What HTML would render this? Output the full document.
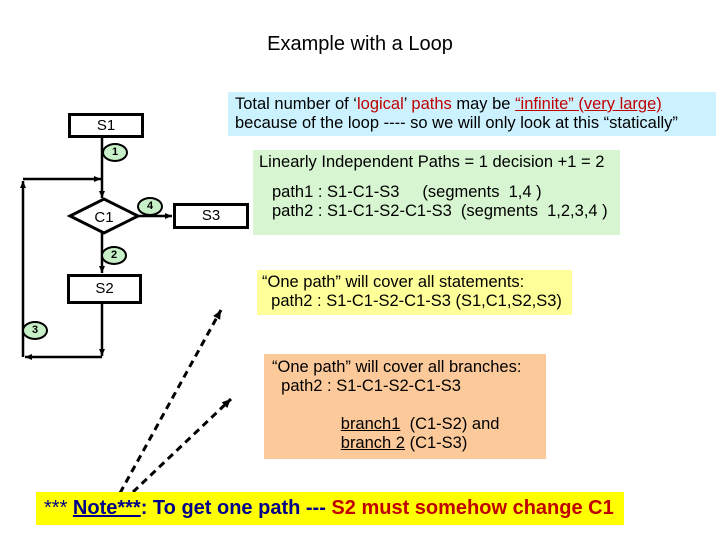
<!DOCTYPE html>
<html><head><style>
body{margin:0;width:720px;height:540px;background:#fff;position:relative;overflow:hidden;font-family:"Liberation Sans",Arial,sans-serif;}
.a{position:absolute;}
.box{position:absolute;border:3px solid #000;background:#fff;box-sizing:border-box;text-align:center;font-size:15px;}
.b{position:absolute;width:22px;height:15px;border:2.5px solid #000;border-radius:50%;background:#c8f0c8;font-size:11px;font-weight:bold;text-align:center;line-height:15px;box-sizing:content-box;}
</style></head><body>
<div class="a" style="left:0;top:33px;width:720px;text-align:center;font-size:20px;">Example with a Loop</div>

<svg class="a" style="left:0;top:0" width="720" height="540">
<defs>
<marker id="ar" markerWidth="8" markerHeight="8" refX="7" refY="4" orient="auto" markerUnits="userSpaceOnUse"><path d="M0,1 L7,4 L0,7z" fill="#000"/></marker>
<marker id="ar2" markerWidth="10" markerHeight="10" refX="9" refY="5" orient="auto" markerUnits="userSpaceOnUse"><path d="M0,1 L9,5 L0,9z" fill="#000"/></marker>
</defs>
<g stroke="#000" stroke-width="2.5" fill="none">
<line x1="102" y1="137" x2="102" y2="198" marker-end="url(#ar)"/>
<line x1="23" y1="179" x2="101" y2="179" marker-end="url(#ar)"/>
<line x1="23" y1="357" x2="23" y2="181" marker-end="url(#ar)"/>
<line x1="102" y1="357" x2="25" y2="357" marker-end="url(#ar)"/>
<line x1="102" y1="303" x2="102" y2="356" marker-end="url(#ar)"/>
<line x1="102" y1="233" x2="102" y2="273" marker-end="url(#ar)"/>
<line x1="138" y1="216" x2="172" y2="216" marker-end="url(#ar)"/>
<polygon points="70,216 104,199 138,216 104,233" fill="#fff" stroke-width="3"/>
<line x1="120" y1="493" x2="221" y2="310" stroke-width="3" stroke-dasharray="7,5" marker-end="url(#ar2)"/>
<line x1="133" y1="492" x2="231" y2="399" stroke-width="3" stroke-dasharray="7,5" marker-end="url(#ar2)"/>
</g>
<text x="104" y="222" font-size="15" text-anchor="middle" font-family="Liberation Sans">C1</text>
</svg>

<div class="box" style="left:68px;top:113px;width:76px;height:25px;line-height:19px;">S1</div>
<div class="box" style="left:173px;top:203px;width:76px;height:26px;line-height:20px;">S3</div>
<div class="box" style="left:67px;top:274px;width:75px;height:30px;line-height:24px;">S2</div>
<div class="b" style="left:102px;top:143px;">1</div>
<div class="b" style="left:137px;top:197px;">4</div>
<div class="b" style="left:101px;top:246px;">2</div>
<div class="b" style="left:22px;top:321px;">3</div>

<div class="a" style="left:228px;top:92px;width:488px;height:44px;background:#ccf2ff;font-size:16.5px;line-height:19px;padding:3px 0 0 7px;box-sizing:border-box;white-space:nowrap;">Total number of ‘<span style="color:#c00000">logical</span>’ <span style="color:#c00000">paths</span> may be <span style="color:#c00000;text-decoration:underline">“infinite” (very large)</span><br>because of the loop ---- so we will only look at this “statically”</div>
<div class="a" style="left:253px;top:150px;width:367px;height:85px;background:#d6f5d0;font-size:16.5px;line-height:19px;box-sizing:border-box;white-space:nowrap;">
<div style="padding:3px 0 0 6px;">Linearly Independent Paths = 1 decision +1 = 2</div>
<div style="padding:11px 0 0 19px;white-space:pre;">path1 : S1-C1-S3     (segments  1,4 )
path2 : S1-C1-S2-C1-S3  (segments  1,2,3,4 )</div></div>
<div class="a" style="left:257px;top:270px;width:315px;height:45px;background:#ffff99;font-size:16.5px;line-height:19px;padding:3px 0 0 5px;box-sizing:border-box;white-space:pre;">“One path” will cover all statements:
  path2 : S1-C1-S2-C1-S3 (S1,C1,S2,S3)</div>
<div class="a" style="left:264px;top:354px;width:282px;height:105px;background:#fbc99a;font-size:16.5px;line-height:19px;padding:4px 0 0 8px;box-sizing:border-box;white-space:pre;">“One path” will cover all branches:
  path2 : S1-C1-S2-C1-S3

               <u>branch1</u>  (C1-S2) and
               <u>branch 2</u> (C1-S3)</div>
<div class="a" style="left:36px;top:492px;width:588px;height:33px;background:#ffff00;font-size:20px;font-weight:bold;line-height:33px;padding-left:8px;box-sizing:border-box;color:#00008b;white-space:nowrap;"><span style="font-weight:normal">***</span> <u>Note***</u>: To get one path --- <span style="color:#c00000">S2 must somehow change C1</span></div>
</body></html>
